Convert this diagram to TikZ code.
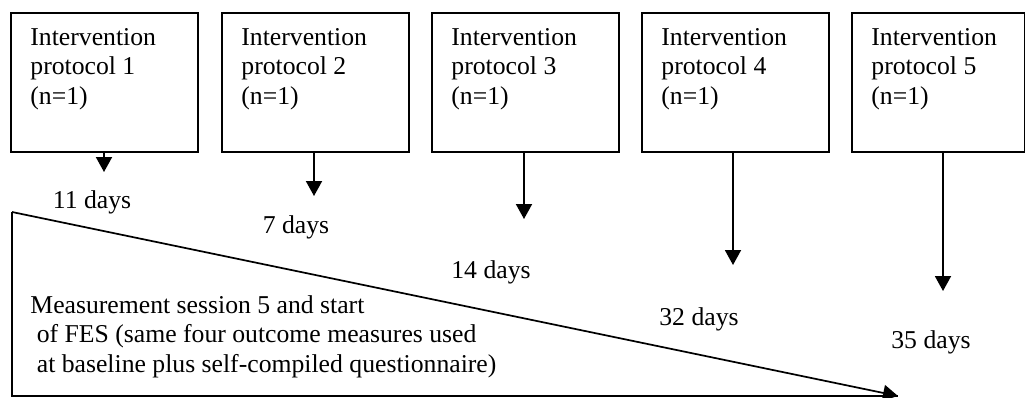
\documentclass[tikz,border=0pt]{standalone}
\usepackage{fontspec}
\setmainfont{Liberation Serif}
\usepackage{tikz}
\usetikzlibrary{positioning}
\usetikzlibrary{arrows.meta,calc}
\tikzstyle{protbox}=[draw,line width=0.85pt,rectangle,minimum height=64.9pt,inner sep=0pt,anchor=north west]
\tikzstyle{boxtext}=[anchor=base west,align=left,inner sep=0pt]
\tikzstyle{flow} = [draw,line width=0.8pt,-{Triangle[width=7.5pt,length=7pt]}]
\tikzstyle{days} = [anchor=base,inner sep=0pt]

\begin{document}
\begin{tikzpicture}[x=0.467pt,y=-0.467pt,font=\fontsize{12}{13.6}\selectfont]
\useasboundingbox (0,0) rectangle (1026,398);

    % protocol boxes
    \foreach \pos/\name/\boxw in {{(10,12)/p1/87.3pt}, {(221,12)/p2/87.3pt}, {(431,12)/p3/87.3pt}, {(641,12)/p4/87.3pt}, {(851,12)/p5/80.6pt}}
        \node[protbox,minimum width=\boxw] (\name) at \pos {};
    \foreach \name/\label in {p1/1, p2/2, p3/3, p4/4, p5/5}
        \node[boxtext] (\name txt) at ($(\name.north west)+(20,92)$) {Intervention\\protocol \label\\(n=1)};

    % arrows down with the days
    \foreach \name/\ax/\ay in {p1/104/172, p2/314/196, p3/524/219, p4/733/265, p5/943/291}
        \coordinate (\name end) at (\ax,\ay);
    \foreach \name in {p1,p2,p3,p4,p5}
        \path[flow] (\name.south -| \name end) -- (\name end);
    \foreach \pos/\name/\numdays in {{(92,208)/p1/11}, {(296,233)/p2/7}, {(491,278)/p3/14}, {(699,325)/p4/32}, {(931,348)/p5/35}}
        \node[days] (\name days) at \pos {\numdays{} days};

    % measurement session
    \coordinate (top) at (12,212);
    \coordinate (corner) at (12,396);
    \coordinate (end) at (898,396);
    \draw[line width=0.8pt] (top) -- (corner) -- (end);
    \path[flow] (top) -- (end);
    \node[boxtext] (meas) at (30,372) {Measurement session 5 and start\\\ of FES (same four outcome measures used\\\ at baseline plus self-compiled questionnaire)};

\end{tikzpicture}
\end{document}
